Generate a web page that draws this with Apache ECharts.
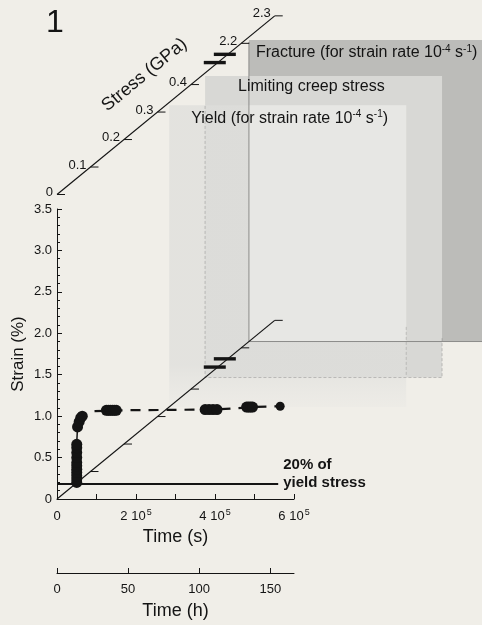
<!DOCTYPE html>
<html><head><meta charset="utf-8">
<script src="https://cdn.jsdelivr.net/npm/echarts@6/dist/echarts.min.js"></script>
<style>html,body{margin:0;padding:0;background:#f0eee8;}#c{width:482px;height:625px;}</style>
</head><body><div id="c"></div>
<script>
const FONT = '"Liberation Sans", Arial, Helvetica, sans-serif';
const INK = '#141414';

// ---------- data ----------
const timeMaxS = 600000;
const timeMaxH = timeMaxS / 3600;
const strainMax = 3.5;
const stressTickValues = [0, 0.1, 0.2, 0.3, 0.4, 2.2, 2.3];
const stressTickLabels = ['0', '0.1', '0.2', '0.3', '0.4', '2.2', '2.3'];
const stressAxisEnds = [0, 2.3];
const fractureStress = [2.13, 2.16];
const panelNames = ['Fracture (for strain rate 10{sup|-4} s{sup|-1})', 'Limiting creep stress', 'Yield (for strain rate 10{sup|-4} s{sup|-1})'];
const panelStress = [2.223, 0.442, 0.335];
const panelStrainTop = 3.64;
// creep test points (time s, strain %)
const pointTime = [50000, 50000, 50000, 50000, 50000, 50000, 50000, 50000, 50000, 50000, 50000,
  52000, 56000, 60000, 64000,
  125000, 130000, 135000, 140000, 145000, 150000,
  375000, 385000, 395000, 405000,
  480000, 485000, 490000, 495000];
const pointStrain = [0.2, 0.24, 0.28, 0.32, 0.36, 0.40, 0.44, 0.50, 0.56, 0.62, 0.66,
  0.87, 0.93, 0.98, 1.0,
  1.07, 1.07, 1.07, 1.07, 1.07, 1.07,
  1.08, 1.08, 1.08, 1.08,
  1.11, 1.11, 1.11, 1.11];
const lastPointTime = [565000];
const lastPointStrain = [1.12];
const loadTime = [50000, 50000, 52000, 58000, 64000];
const loadStrain = [0.18, 0.68, 0.87, 0.96, 1.0];
const creepTime = [95000, 150000, 400000, 500000, 565000];
const creepStrain = [1.06, 1.07, 1.08, 1.11, 1.12];
const lowStressTime = [0, 560000];
const lowStressStrain = [0.18, 0.18];

// ---------- pseudo-3D stress projection ----------
const STRESS_DT = 848000;   // time shift per projected GPa
const STRESS_DE = 3.317;    // strain shift per projected GPa
const TOP_AXIS_STRAIN = 3.675;
function sp(s) { return s <= 1 ? s : s - 1.65; }
function proj(s, lift) { const p = sp(s); return [p * STRESS_DT, p * STRESS_DE + (lift || 0)]; }

const chart = echarts.init(document.getElementById('c'), null, {renderer: 'canvas'});

const sup = {fontSize: 9, verticalAlign: 'top', lineHeight: 9, fontFamily: FONT, color: INK, padding: [0, 0, 0, 1]};

const option = {
  backgroundColor: '#f0eee8',
  animation: false,
  grid: [
    {left: 57, top: 209, width: 237, height: 290, outerBoundsMode: 'none', containLabel: false},
    {left: 57, top: 572, width: 237, height: 1, outerBoundsMode: 'none', containLabel: false}
  ],
  xAxis: [
    {
      type: 'value', gridIndex: 0, min: 0, max: timeMaxS, interval: 100000,
      axisLine: {lineStyle: {color: INK, width: 1}},
      axisTick: {inside: true, length: 5, lineStyle: {color: INK}},
      splitLine: {show: false},
      axisLabel: {
        margin: 9, color: INK, fontSize: 13, fontFamily: FONT, lineHeight: 16,
        formatter: v => v === 0 ? '0' : (v % 200000 === 0 ? (v / 100000) + ' 10{sup|5}' : ''),
        rich: {sup: sup}
      },
      name: 'Time (s)', nameLocation: 'middle', nameGap: 29,
      nameTextStyle: {fontSize: 18, fontFamily: FONT, color: INK, verticalAlign: 'top'}
    },
    {
      type: 'value', gridIndex: 1, min: 0, max: timeMaxH, interval: 50,
      axisLine: {lineStyle: {color: INK, width: 1}},
      axisTick: {inside: true, length: 5, lineStyle: {color: INK}},
      splitLine: {show: false},
      axisLabel: {margin: 10, color: INK, fontSize: 13, fontFamily: FONT, showMaxLabel: false,
        formatter: v => (v % 50 === 0 ? String(v) : '')},
      name: 'Time (h)', nameLocation: 'middle', nameGap: 29,
      nameTextStyle: {fontSize: 18, fontFamily: FONT, color: INK, verticalAlign: 'top'}
    }
  ],
  yAxis: [
    {
      type: 'value', gridIndex: 0, min: 0, max: strainMax, interval: 0.5,
      axisLine: {show: true, lineStyle: {color: INK, width: 1}},
      axisTick: {show: true, inside: true, length: 5, lineStyle: {color: INK}},
      minorTick: {show: true, splitNumber: 5, length: 3, lineStyle: {color: INK}},
      splitLine: {show: false},
      axisLabel: {margin: 5, color: INK, fontSize: 13, fontFamily: FONT,
        formatter: v => v === 0 ? '0' : v.toFixed(1)},
      name: 'Strain (%)', nameLocation: 'middle', nameGap: 30, nameRotate: 90,
      nameTextStyle: {fontSize: 17, fontFamily: FONT, color: INK}
    },
    {type: 'value', gridIndex: 1, min: 0, max: 1, show: false}
  ],
  series: [
    // shaded stress planes
    {
      type: 'custom', xAxisIndex: 0, yAxisIndex: 0, clip: false, z: 1, silent: true,
      data: [[0, 0]],
      renderItem: function (params, api) {
        const fills = [
          '#bcbcb9',
          '#d8d8d5',
          {type: 'linear', x: 0, y: 0, x2: 0, y2: 1, colorStops: [
            {offset: 0, color: 'rgba(222,222,219,0.72)'},
            {offset: 0.86, color: 'rgba(222,222,219,0.72)'},
            {offset: 1, color: 'rgba(228,228,225,0.25)'}]}
        ];
        const rects = panelStress.map(s => {
          const o = proj(s);
          const p0 = api.coord([o[0], o[1]]);
          const p1 = api.coord([o[0] + timeMaxS, o[1] + panelStrainTop]);
          return {x: p0[0], y: p1[1], w: p1[0] - p0[0], h: p0[1] - p1[1]};
        });
        const ch = [];
        rects.forEach((r, i) => {
          ch.push({type: 'rect', shape: {x: r.x, y: r.y, width: r.w, height: r.h}, style: {fill: fills[i]}});
        });
        // inner window shared by all three planes
        const fr = rects[0], lr = rects[1], yr = rects[2];
        ch.push({type: 'rect', shape: {x: fr.x, y: yr.y, width: (yr.x + yr.w) - fr.x, height: (fr.y + fr.h) - yr.y},
          style: {fill: '#e7e7e4'}});
        // faint outline of the middle plane
        ch.push({type: 'polyline', shape: {points: [[lr.x, lr.y + 30], [lr.x, lr.y + lr.h], [lr.x + lr.w, lr.y + lr.h], [lr.x + lr.w, lr.y + lr.h - 40]]},
          style: {stroke: 'rgba(110,110,110,0.35)', lineWidth: 1, fill: null, lineDash: [3, 2]}});
        // faint right edge of the front plane
        ch.push({type: 'line', shape: {x1: yr.x + yr.w, y1: yr.y + yr.h - 80, x2: yr.x + yr.w, y2: yr.y + yr.h - 30},
          style: {stroke: 'rgba(110,110,110,0.3)', lineWidth: 1, lineDash: [3, 2]}});
        // back plane edges (strain & time directions)
        ch.push({type: 'polyline', shape: {points: [[fr.x, fr.y + 2], [fr.x, fr.y + fr.h], [fr.x + fr.w, fr.y + fr.h]]},
          style: {stroke: '#8c8c8a', lineWidth: 1, fill: null}});
        const offs = [[7, 13], [33, 11], [22, 13]];
        rects.forEach((r, i) => {
          ch.push({type: 'text', x: r.x + offs[i][0], y: r.y + offs[i][1],
            style: {text: panelNames[i], fontSize: 16, fontFamily: FONT, fill: INK, align: 'left', verticalAlign: 'middle',
              lineHeight: 18, rich: {sup: {fontSize: 10, lineHeight: 10, verticalAlign: 'top', fontFamily: FONT, fill: INK}}}});
        });
        return {type: 'group', children: ch};
      }
    },
    // stress axes (top labelled one and one from the origin)
    {
      type: 'line', xAxisIndex: 0, yAxisIndex: 0, clip: false, z: 4, symbol: 'none', silent: true,
      lineStyle: {color: INK, width: 1.2},
      data: stressAxisEnds.map(s => proj(s, TOP_AXIS_STRAIN))
    },
    {
      type: 'line', xAxisIndex: 0, yAxisIndex: 0, clip: false, z: 4, symbol: 'none', silent: true,
      lineStyle: {color: INK, width: 1.2},
      data: stressAxisEnds.map(s => proj(s, 0))
    },
    // stress ticks + labels
    {
      type: 'custom', xAxisIndex: 0, yAxisIndex: 0, clip: false, z: 5, silent: true,
      data: stressTickValues.map((v, i) => [i, 0]),
      renderItem: function (params, api) {
        const i = params.dataIndex, s = stressTickValues[i];
        const pt = api.coord(proj(s, TOP_AXIS_STRAIN));
        const pb = api.coord(proj(s, 0));
        const st = {stroke: INK, lineWidth: 1};
        const ch = [
          {type: 'line', shape: {x1: pt[0], y1: pt[1], x2: pt[0] + 8, y2: pt[1]}, style: st},
          {type: 'text', x: pt[0] - 4, y: pt[1] - 2,
            style: {text: stressTickLabels[i], align: 'right', verticalAlign: 'middle', fontSize: 13, fontFamily: FONT, fill: INK}}
        ];
        if (s > 0) ch.push({type: 'line', shape: {x1: pb[0], y1: pb[1], x2: pb[0] + 8, y2: pb[1]}, style: st});
        return {type: 'group', children: ch};
      }
    },
    // fracture stress bars on both stress axes
    {
      type: 'custom', xAxisIndex: 0, yAxisIndex: 0, clip: false, z: 6, silent: true,
      data: fractureStress.map((v, i) => [i, 0]),
      renderItem: function (params, api) {
        const s = fractureStress[params.dataIndex];
        const ch = [TOP_AXIS_STRAIN, 0].map(l => {
          const p = api.coord(proj(s, l));
          return {type: 'rect', shape: {x: p[0] - 14, y: p[1] - 1.7, width: 22, height: 3.4}, style: {fill: INK}};
        });
        return {type: 'group', children: ch};
      }
    },
    // 20% of yield stress
    {
      type: 'line', xAxisIndex: 0, yAxisIndex: 0, z: 4, symbol: 'none', silent: true,
      lineStyle: {color: INK, width: 2},
      data: lowStressTime.map((t, i) => [t, lowStressStrain[i]])
    },
    // loading part
    {
      type: 'line', xAxisIndex: 0, yAxisIndex: 0, z: 4, symbol: 'none', silent: true,
      lineStyle: {color: INK, width: 1.5},
      data: loadTime.map((t, i) => [t, loadStrain[i]])
    },
    // creep (dashed)
    {
      type: 'line', xAxisIndex: 0, yAxisIndex: 0, z: 4, symbol: 'none', silent: true,
      lineStyle: {color: INK, width: 2.2, type: [10, 8]},
      data: creepTime.map((t, i) => [t, creepStrain[i]])
    },
    {
      type: 'scatter', xAxisIndex: 0, yAxisIndex: 0, z: 7, silent: true,
      symbol: 'circle', symbolSize: 11, itemStyle: {color: INK, opacity: 1},
      data: pointTime.map((t, i) => [t, pointStrain[i]])
    },
    {
      type: 'scatter', xAxisIndex: 0, yAxisIndex: 0, z: 7, silent: true,
      symbol: 'circle', symbolSize: 9, itemStyle: {color: INK, opacity: 1},
      data: lastPointTime.map((t, i) => [t, lastPointStrain[i]])
    }
  ]
};
chart.setOption(option);

// texts placed from the library's coordinate conversion
const a = chart.convertToPixel({gridIndex: 0}, proj(0, TOP_AXIS_STRAIN));
const b = chart.convertToPixel({gridIndex: 0}, proj(0.4, TOP_AXIS_STRAIN));
const L = Math.hypot(b[0] - a[0], b[1] - a[1]);
const u = [(b[0] - a[0]) / L, (b[1] - a[1]) / L];
const n = [u[1], -u[0]];
const along = 0.331 / 0.4 * L;
const sc = [a[0] + u[0] * along + n[0] * 37, a[1] + u[1] * along + n[1] * 37];
const lowEnd = chart.convertToPixel({gridIndex: 0}, [lowStressTime[1], lowStressStrain[1]]);

chart.setOption({
  graphic: [
    {type: 'text', x: 55, y: 23, style: {text: '1', fontSize: 32, fontFamily: FONT, fill: INK, align: 'center', verticalAlign: 'middle'}},
    {type: 'text', x: sc[0], y: sc[1], rotation: Math.atan2(-u[1], u[0]),
      style: {text: 'Stress (GPa)', fontSize: 18, fontFamily: FONT, fill: INK, align: 'center', verticalAlign: 'middle'}},
    {type: 'text', x: lowEnd[0] + 5, y: lowEnd[1] - 10,
      style: {text: '20% of\nyield stress', fontSize: 15, fontWeight: 'bold', lineHeight: 18, fontFamily: FONT, fill: INK, align: 'left', verticalAlign: 'middle'}}
  ]
});
</script></body></html>
